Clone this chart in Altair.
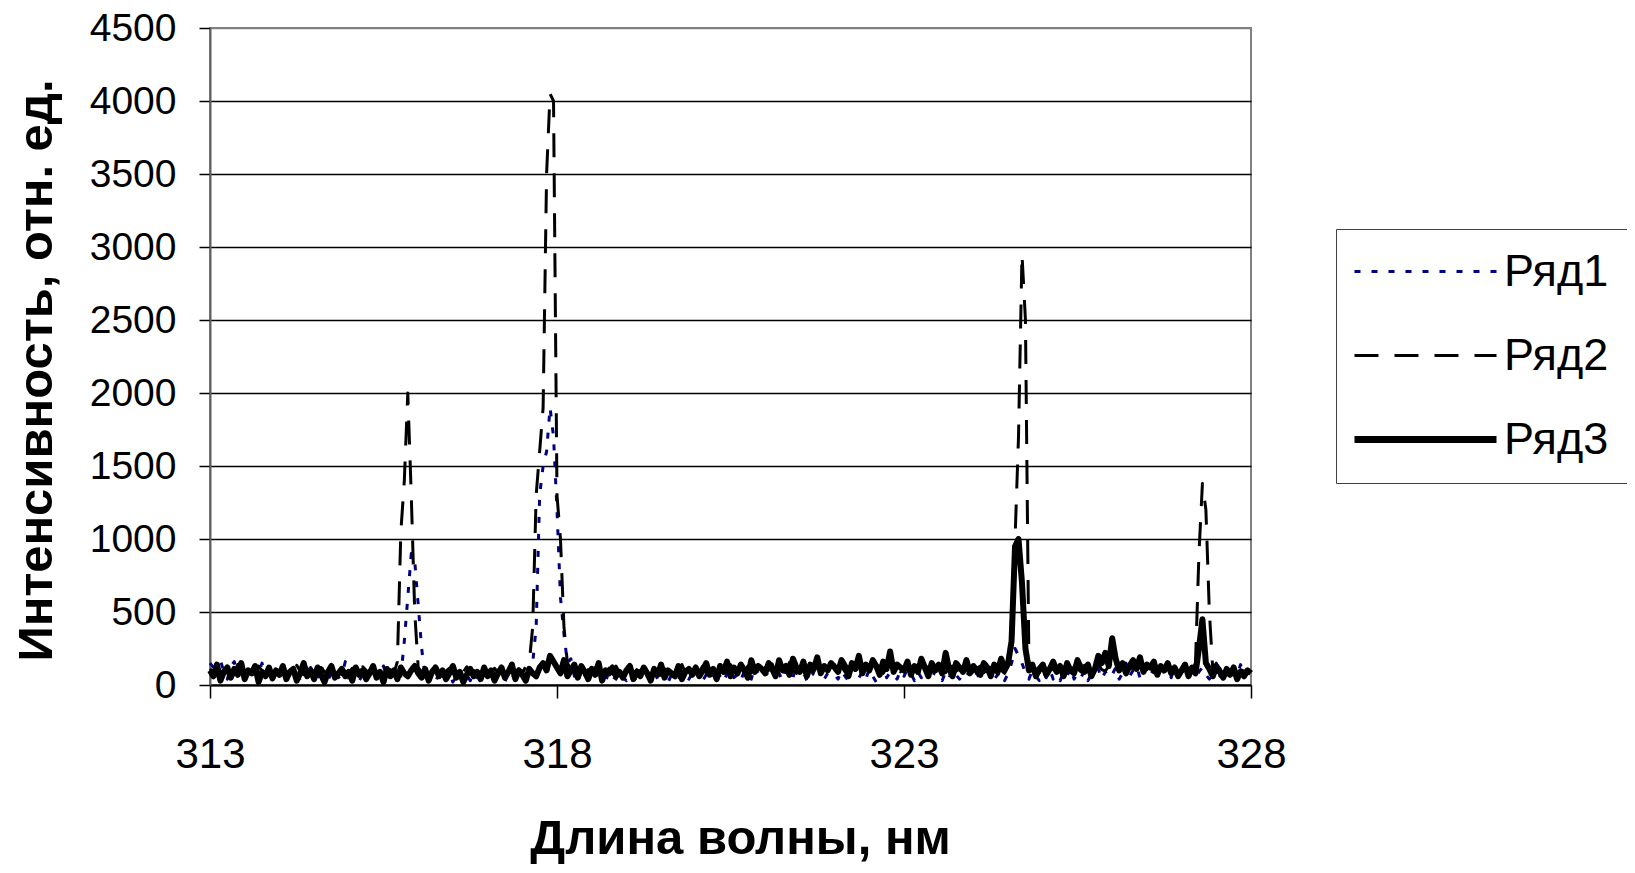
import altair as alt
import pandas as pd

# Wavelength grid: 313.00 .. 328.00 nm, step 0.05 nm (301 samples)
wl_start = 313.0
wl_step = 0.05

series_names = ["Ряд1", "Ряд2", "Ряд3"]
x_ticks = [313, 318, 323, 328]
y_ticks = [0, 500, 1000, 1500, 2000, 2500, 3000, 3500, 4000, 4500]

ryad1 = [
    150, 120, 60, 170, 90, 40, 130, 160, 70, 110, 50, 140, 30, 100, 80, 150, 60, 120, 40, 90,
    70, 110, 40, 130, 60, 90, 30, 100, 50, 120, 80, 40, 140, 60, 30, 90, 110, 50, 70, 160,
    40, 80, 120, 30, 70, 50, 100, 40, 90, 60, 130, 50, 80, 40, 70, 60, 300, 600, 900, 850,
    550, 250, 60, 40, 90, 30, 70, 110, 50, 80, 20, 60, 100, 40, 70, 30, 90, 50, 120, 60,
    40, 80, 30, 100, 60, 20, 90, 50, 70, 30, 110, 60, 80, 150, 400, 1300, 1500, 1600, 1900, 1700,
    1200, 600, 350, 150, 180, 60, 120, 40, 90, 30, 70, 110, 50, 80, 20, 100, 60, 40, 90, 50,
    30, 80, 60, 20, 100, 50, 70, 30, 90, 40, 60, 110, 20, 70, 50, 30, 90, 60, 40, 80,
    50, 100, 30, 70, 120, 40, 90, 60, 20, 80, 110, 50, 70, 30, 100, 60, 40, 130, 80, 50,
    90, 60, 120, 40, 80, 30, 110, 70, 50, 140, 60, 90, 30, 100, 70, 50, 120, 40, 80, 60,
    70, 40, 100, 60, 30, 120, 80, 50, 90, 40, 110, 60, 20, 80, 130, 50, 90, 70, 40, 100,
    60, 110, 80, 30, 90, 50, 120, 70, 40, 100, 60, 30, 90, 50, 110, 70, 40, 80, 60, 100,
    50, 80, 30, 100, 60, 120, 40, 70, 90, 30, 80, 150, 250, 200, 150, 80, 40, 100, 60, 30,
    80, 50, 110, 40, 70, 30, 90, 60, 120, 40, 80, 50, 100, 30, 70, 60, 110, 40, 90, 50,
    70, 120, 40, 80, 150, 60, 100, 130, 50, 90, 140, 70, 110, 60, 160, 80, 100, 50, 130, 90,
    60, 140, 80, 110, 50, 90, 120, 70, 40, 100, 150, 60, 130, 80, 40, 110, 70, 140, 50, 90,
    120,
]

ryad2 = [
    110, 80, 130, 95, 70, 120, 100, 85, 140, 90, 60, 115, 105, 75, 130, 95, 80, 120, 70, 100,
    90, 125, 65, 110, 85, 135, 95, 70, 115, 80, 100, 60, 120, 90, 75, 130, 85, 105, 70, 95,
    80, 115, 90, 60, 125, 100, 75, 110, 85, 130, 95, 70, 105, 80, 160, 1050, 1400, 2000, 1300, 500,
    120, 90, 110, 75, 100, 130, 85, 60, 95, 115, 80, 105, 70, 90, 125, 85, 100, 65, 110, 95,
    90, 70, 115, 85, 100, 60, 120, 95, 80, 110, 75, 130, 150, 400, 1300, 1600, 1900, 3500, 4050, 4000,
    1300, 1000, 400, 150, 110, 80, 125, 95, 70, 105, 85, 120, 60, 100, 90, 115, 75, 130, 85, 100,
    95, 120, 70, 105, 85, 130, 90, 75, 115, 100, 65, 110, 95, 125, 80, 100, 140, 85, 110, 70,
    105, 90, 130, 80, 115, 95, 70, 125, 100, 85, 140, 110, 75, 120, 95, 130, 85, 105, 150, 90,
    120, 100, 145, 85, 110, 130, 95, 155, 105, 80, 125, 140, 100, 115, 90, 150, 110, 130, 95, 120,
    140, 105, 125, 90, 150, 115, 100, 135, 85, 120, 145, 95, 110, 130, 80, 115, 140, 100, 125, 90,
    110, 135, 95, 120, 80, 145, 105, 125, 90, 115, 100, 140, 85, 120, 130, 95, 110, 75, 125, 100,
    90, 115, 130, 85, 105, 120, 95, 140, 100, 80, 125, 200, 1000, 1700, 2950, 2500, 150, 100, 110, 85,
    120, 95, 140, 105, 85, 130, 100, 115, 75, 125, 110, 90, 135, 100, 120, 85, 145, 105, 95, 130,
    150, 120, 100, 135, 90, 125, 110, 145, 95, 120, 105, 130, 85, 115, 100, 140, 90, 110, 125, 80,
    105, 90, 120, 100, 150, 900, 1380, 1200, 500, 100, 85, 115, 70, 100, 90, 125, 80, 105, 95, 60,
    90,
]

ryad3 = [
    100, 60, 140, 30, 90, 120, 50, 110, 70, 150, 40, 100, 80, 130, 20, 90, 60, 120, 45, 100,
    70, 130, 40, 90, 110, 30, 80, 150, 60, 100, 40, 120, 70, 20, 90, 130, 50, 80, 110, 60,
    90, 30, 120, 70, 100, 40, 80, 130, 50, 90, 20, 110, 60, 100, 40, 120, 80, 60, 100, 130,
    80, 50, 110, 30, 90, 120, 60, 100, 40, 80, 130, 50, 90, 20, 70, 110, 60, 90, 40, 120,
    60, 100, 30, 80, 120, 50, 90, 140, 40, 100, 70, 30, 110, 80, 60, 120, 150, 100, 200, 160,
    120, 80, 170, 60, 100, 140, 50, 130, 90, 40, 110, 70, 150, 30, 100, 80, 120, 60, 90, 50,
    100, 130, 40, 90, 60, 120, 80, 30, 110, 70, 140, 50, 100, 80, 60, 130, 40, 90, 110, 70,
    120, 60, 100, 150, 70, 110, 40, 130, 90, 160, 60, 120, 80, 140, 100, 50, 170, 90, 130, 110,
    80, 150, 110, 60, 170, 100, 130, 70, 180, 120, 90, 160, 60, 140, 110, 190, 80, 130, 100, 150,
    120, 90, 170, 130, 60, 150, 110, 200, 80, 140, 100, 170, 130, 70, 160, 110, 230, 90, 140, 120,
    100, 160, 70, 130, 90, 180, 120, 60, 150, 100, 140, 80, 220, 110, 60, 150, 120, 90, 170, 80,
    130, 100, 70, 150, 120, 60, 140, 90, 180, 110, 150, 300, 950, 1000, 700, 250, 100, 140, 60, 110,
    140, 70, 110, 160, 90, 130, 60, 150, 100, 80, 170, 120, 90, 140, 60, 110, 200, 150, 220, 130,
    320, 180, 100, 150, 80, 130, 170, 110, 190, 90, 140, 120, 160, 70, 130, 100, 150, 80, 120, 60,
    100, 140, 60, 120, 80, 250, 450, 150, 110, 60, 130, 90, 50, 110, 70, 120, 40, 90, 60, 100,
    80,
]

rows = []
for name, vals in zip(series_names, [ryad1, ryad2, ryad3]):
    for i, v in enumerate(vals):
        rows.append({"wl": round(wl_start + wl_step * i, 2), "val": v, "series": name})
df = pd.DataFrame(rows)

FONT = "Liberation Sans, Arial, sans-serif"

legend = alt.Legend(
    title=None,
    orient="none",
    legendX=1126,
    legendY=201,
    symbolType="stroke",
    symbolSize=20164,
    symbolStrokeWidth={"expr": "datum.value === 'Ряд3' ? 7 : 3"},
    symbolOffset=47,
    rowPadding=38,
    labelFont=FONT,
    labelFontSize=45,
    labelColor="black",
    labelOffset=56,
    padding=20,
    strokeColor="#404040",
    fillColor="white",
)

chart = alt.Chart(df).mark_line(strokeCap="butt", strokeJoin="round").encode(
    x=alt.X(
        "wl:Q",
        scale=alt.Scale(domain=[313, 328], nice=False, zero=False),
        axis=alt.Axis(
            values=x_ticks, format="d", grid=False, labelFlush=False,
            domainColor="black", domainWidth=2,
            tickColor="black", tickSize=13, tickWidth=1.5,
            labelFont=FONT, labelFontSize=42, labelColor="black", labelPadding=36,
            title="Длина волны, нм", titleFont=FONT, titleFontSize=49, titleFontWeight="bold",
            titleColor="black", titleX=530, titleY=168, titleAlign="center",
            titleBaseline="alphabetic",
        ),
    ),
    y=alt.Y(
        "val:Q",
        scale=alt.Scale(domain=[0, 4500], nice=False),
        axis=alt.Axis(
            values=y_ticks, format="d", grid=True,
            gridColor={"condition": {"test": "datum.value === 4500", "value": "#808080"}, "value": "black"},
            gridWidth=1.5,
            domainColor="#606060", domainWidth=2,
            tickColor="black", tickSize=11, tickWidth=1.5,
            labelFont=FONT, labelFontSize=39, labelColor="black", labelPadding=23,
            title="Интенсивность, отн. ед.", titleFont=FONT, titleFontSize=49, titleFontWeight="bold",
            titleColor="black", titleX=-159, titleY=342, titleAngle=270,
            titleAlign="center", titleBaseline="alphabetic",
        ),
    ),
    color=alt.Color(
        "series:N",
        scale=alt.Scale(domain=series_names, range=["#000080", "#000000", "#000000"]),
        legend=legend,
    ),
    strokeDash=alt.StrokeDash(
        "series:N",
        scale=alt.Scale(domain=series_names, range=[[6, 11], [24, 16], [1, 0]]),
        legend=legend,
    ),
    strokeWidth=alt.condition(alt.datum.series == "Ряд3", alt.value(6), alt.value(3)),
).properties(
    width=1041,
    height=657,
    autosize=alt.AutoSizeParams(type="none"),
    padding={"left": 202, "top": 20, "right": 376, "bottom": 180},
    background="white",
).configure_view(stroke="#808080", strokeWidth=2)

chart.save("out.html", embed_options={"renderer": "svg", "actions": False})
